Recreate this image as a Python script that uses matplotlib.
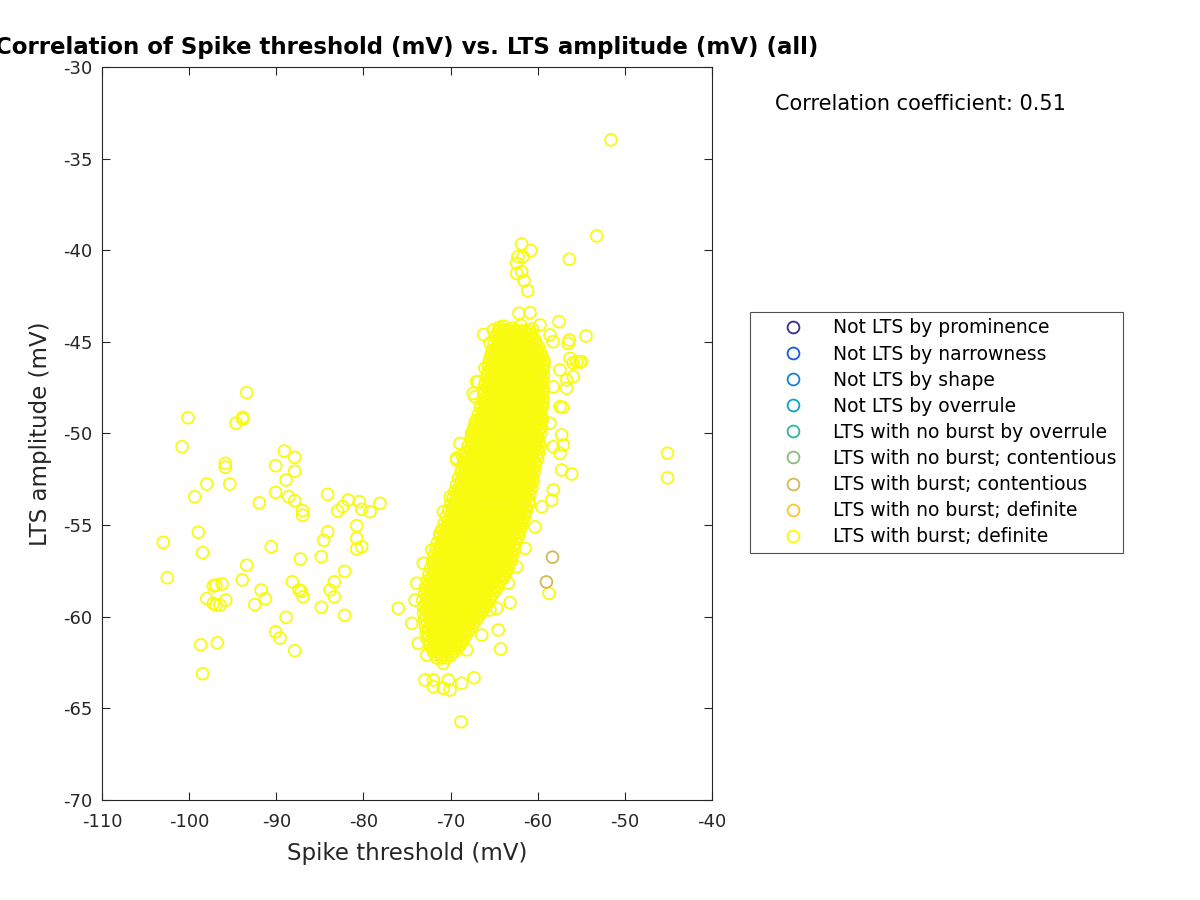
import numpy as np
import matplotlib
matplotlib.use('Agg')
import matplotlib.pyplot as plt
from matplotlib.lines import Line2D

plt.rcParams['axes.unicode_minus'] = False

# group names and colours (parula, 9 groups)
group_names = ['Not LTS by prominence', 'Not LTS by narrowness', 'Not LTS by shape',
               'Not LTS by overrule', 'LTS with no burst by overrule',
               'LTS with no burst; contentious', 'LTS with burst; contentious',
               'LTS with no burst; definite', 'LTS with burst; definite']
group_colors = ['#3a2c8e', '#0f5fe0', '#1582d8', '#08a5cb', '#2db6a3',
                '#86bf76', '#d2b85a', '#fcc537', '#f9fb0e']

# dense core of "LTS with burst; definite", one list of thresholds per amplitude row
core_amp = [-44.40, -44.75, -45.10, -45.45, -45.80, -46.15, -46.50, -46.85, -47.20, -47.55,
            -47.90, -48.25, -48.60, -48.95, -49.30, -49.65, -50.00, -50.35, -50.70, -51.05,
            -51.40, -51.75, -52.10, -52.45, -52.80, -53.15, -53.50, -53.85, -54.20, -54.55,
            -54.90, -55.25, -55.60, -55.95, -56.30, -56.65, -57.00, -57.35, -57.70, -58.05,
            -58.40, -58.75, -59.10, -59.45, -59.80, -60.15, -60.50, -60.85, -61.20, -61.55,
            -61.90, -62.25]
core_thr = [
    [-64.5, -63.9, -63.3, -62.7, -62.1, -61.5, -61.0],
    [-64.8, -64.2, -63.6, -63.0, -62.4, -61.8, -61.2, -60.6],
    [-65.0, -64.5, -63.9, -63.3, -62.7, -62.1, -61.5, -60.9, -60.2],
    [-65.2, -64.7, -64.1, -63.5, -62.9, -62.4, -61.8, -61.2, -60.6, -60.0],
    [-65.4, -64.9, -64.3, -63.7, -63.1, -62.6, -62.0, -61.4, -60.8, -60.2, -59.6],
    [-65.6, -65.0, -64.5, -63.9, -63.3, -62.8, -62.2, -61.6, -61.0, -60.4, -59.8, -59.3],
    [-65.4, -64.8, -64.2, -63.6, -63.1, -62.5, -61.9, -61.3, -60.7, -60.1, -59.5],
    [-65.8, -65.2, -64.6, -64.0, -63.4, -62.8, -62.2, -61.6, -61.0, -60.4, -59.8, -59.3],
    [-66.0, -65.5, -64.9, -64.3, -63.7, -63.1, -62.5, -61.9, -61.3, -60.7, -60.1, -59.5],
    [-65.8, -65.2, -64.6, -64.0, -63.4, -62.8, -62.2, -61.6, -61.0, -60.4, -59.8, -59.3],
    [-66.2, -65.6, -65.0, -64.4, -63.8, -63.2, -62.6, -62.0, -61.4, -60.8, -60.2, -59.6],
    [-66.3, -65.8, -65.2, -64.6, -64.0, -63.5, -62.9, -62.3, -61.7, -61.1, -60.5, -59.9, -59.4],
    [-66.6, -66.0, -65.4, -64.8, -64.2, -63.6, -63.0, -62.4, -61.8, -61.2, -60.6, -60.0, -59.5],
    [-66.8, -66.3, -65.7, -65.1, -64.5, -63.9, -63.3, -62.7, -62.1, -61.5, -60.9, -60.3, -59.7],
    [-67.1, -66.5, -65.9, -65.3, -64.7, -64.1, -63.5, -62.9, -62.3, -61.7, -61.1, -60.5, -59.9, -59.5],
    [-67.3, -66.7, -66.1, -65.6, -65.0, -64.4, -63.8, -63.2, -62.6, -62.0, -61.4, -60.8, -60.2, -59.6],
    [-67.5, -66.9, -66.3, -65.7, -65.1, -64.5, -63.9, -63.3, -62.7, -62.1, -61.5, -60.9, -60.3, -59.7],
    [-67.7, -67.1, -66.6, -66.0, -65.4, -64.8, -64.2, -63.6, -63.0, -62.4, -61.8, -61.2, -60.6, -60.0],
    [-68.0, -67.4, -66.8, -66.2, -65.6, -65.0, -64.4, -63.8, -63.2, -62.6, -62.0, -61.4, -60.8, -60.2, -59.7],
    [-68.2, -67.6, -67.0, -66.5, -65.9, -65.3, -64.7, -64.1, -63.5, -62.9, -62.3, -61.7, -61.1, -60.5, -59.9],
    [-68.4, -67.8, -67.2, -66.6, -66.0, -65.4, -64.8, -64.2, -63.6, -63.0, -62.4, -61.8, -61.2, -60.6, -60.0],
    [-68.6, -68.0, -67.5, -66.9, -66.3, -65.7, -65.1, -64.5, -63.9, -63.3, -62.7, -62.1, -61.5, -60.9, -60.3],
    [-68.8, -68.2, -67.6, -67.0, -66.4, -65.8, -65.2, -64.6, -64.0, -63.4, -62.8, -62.2, -61.6, -61.0, -60.4],
    [-69.1, -68.5, -67.9, -67.3, -66.7, -66.1, -65.5, -64.9, -64.3, -63.7, -63.1, -62.5, -61.9, -61.3, -60.7],
    [-69.3, -68.7, -68.1, -67.5, -66.9, -66.3, -65.7, -65.1, -64.5, -63.9, -63.3, -62.7, -62.1, -61.5, -60.9],
    [-69.5, -68.9, -68.3, -67.7, -67.1, -66.5, -65.9, -65.3, -64.7, -64.1, -63.5, -62.9, -62.3, -61.7, -61.1],
    [-69.7, -69.1, -68.5, -67.9, -67.3, -66.7, -66.1, -65.5, -64.9, -64.3, -63.7, -63.1, -62.5, -61.9, -61.3],
    [-70.0, -69.4, -68.8, -68.2, -67.6, -67.0, -66.4, -65.8, -65.2, -64.6, -64.0, -63.4, -62.8, -62.2, -61.6, -61.0],
    [-70.2, -69.6, -69.0, -68.4, -67.8, -67.2, -66.6, -66.0, -65.4, -64.8, -64.2, -63.6, -63.0, -62.4, -61.8, -61.3],
    [-70.5, -69.9, -69.3, -68.7, -68.1, -67.5, -66.9, -66.3, -65.7, -65.1, -64.5, -63.9, -63.3, -62.7, -62.1, -61.5],
    [-70.7, -70.1, -69.5, -68.9, -68.3, -67.7, -67.1, -66.5, -65.9, -65.3, -64.7, -64.1, -63.5, -62.9, -62.3, -61.8],
    [-71.0, -70.4, -69.8, -69.2, -68.6, -68.0, -67.4, -66.8, -66.2, -65.6, -65.0, -64.4, -63.8, -63.2, -62.6, -62.0],
    [-71.2, -70.6, -70.0, -69.4, -68.8, -68.2, -67.6, -67.0, -66.4, -65.8, -65.2, -64.6, -64.0, -63.4, -62.8, -62.2],
    [-71.5, -70.9, -70.3, -69.7, -69.1, -68.5, -67.9, -67.3, -66.7, -66.1, -65.5, -64.9, -64.3, -63.7, -63.1, -62.5],
    [-71.7, -71.1, -70.5, -69.9, -69.3, -68.7, -68.1, -67.5, -66.9, -66.3, -65.7, -65.1, -64.5, -63.9, -63.3, -62.7],
    [-71.9, -71.3, -70.7, -70.1, -69.5, -68.9, -68.3, -67.7, -67.1, -66.5, -65.9, -65.3, -64.7, -64.1, -63.5, -62.9],
    [-72.1, -71.5, -70.9, -70.3, -69.7, -69.1, -68.5, -67.9, -67.3, -66.7, -66.1, -65.5, -64.9, -64.3, -63.7, -63.1],
    [-72.3, -71.7, -71.1, -70.5, -69.9, -69.3, -68.7, -68.1, -67.5, -66.9, -66.3, -65.7, -65.1, -64.5, -63.9, -63.4],
    [-72.5, -71.9, -71.3, -70.7, -70.1, -69.5, -68.9, -68.3, -67.7, -67.1, -66.5, -65.9, -65.3, -64.7, -64.1, -63.7],
    [-72.7, -72.1, -71.5, -70.9, -70.3, -69.7, -69.1, -68.5, -67.9, -67.3, -66.7, -66.1, -65.5, -64.9, -64.3],
    [-72.9, -72.3, -71.7, -71.1, -70.5, -69.9, -69.3, -68.7, -68.1, -67.5, -66.9, -66.3, -65.7, -65.1, -64.6],
    [-73.0, -72.4, -71.8, -71.2, -70.6, -70.0, -69.4, -68.8, -68.2, -67.6, -67.0, -66.4, -65.8, -65.2],
    [-73.2, -72.6, -72.0, -71.4, -70.8, -70.2, -69.6, -69.0, -68.4, -67.8, -67.2, -66.6, -66.0, -65.5],
    [-73.1, -72.5, -71.9, -71.3, -70.7, -70.1, -69.5, -68.9, -68.3, -67.7, -67.1, -66.5, -66.0],
    [-73.1, -72.5, -71.9, -71.3, -70.7, -70.1, -69.5, -68.9, -68.3, -67.7, -67.1, -66.5],
    [-73.0, -72.4, -71.8, -71.2, -70.6, -70.0, -69.4, -68.8, -68.2, -67.6, -67.0],
    [-72.9, -72.3, -71.7, -71.1, -70.5, -69.9, -69.3, -68.7, -68.1, -67.5],
    [-72.8, -72.2, -71.6, -71.0, -70.4, -69.8, -69.2, -68.6, -68.0],
    [-72.7, -72.1, -71.5, -70.9, -70.3, -69.7, -69.1, -68.5],
    [-72.4, -71.8, -71.2, -70.6, -70.0, -69.4, -68.9],
    [-72.0, -71.4, -70.8, -70.2, -69.6],
    [-71.6, -71.0, -70.4],
]

# second set of core rows, lying between the rows above
core2_amp = [-44.58, -44.93, -45.28, -45.63, -45.98, -46.33, -46.68, -47.03, -47.38, -47.73,
             -48.08, -48.43, -48.78, -49.13, -49.48, -49.83, -50.18, -50.53, -50.88, -51.23,
             -51.58, -51.93, -52.28, -52.63, -52.98, -53.33, -53.68, -54.03, -54.38, -54.73,
             -55.08, -55.43, -55.78, -56.13, -56.48, -56.83, -57.18, -57.53, -57.88, -58.23,
             -58.58, -58.93, -59.28, -59.63, -59.98, -60.33, -60.68, -61.03, -61.38, -61.73,
             -62.08]
core2_thr = [
    [-64.7, -64.2, -63.6, -63.0, -62.4, -61.8, -61.2, -60.7],
    [-64.5, -63.9, -63.3, -62.7, -62.1, -61.5, -60.9, -60.3],
    [-64.7, -64.1, -63.5, -62.9, -62.3, -61.7, -61.1, -60.5, -59.9],
    [-65.3, -64.9, -64.3, -63.7, -63.1, -62.5, -61.9, -61.3, -60.7, -60.1, -59.6],
    [-65.5, -65.1, -64.5, -63.9, -63.3, -62.7, -62.1, -61.5, -60.9, -60.3, -59.7, -59.3],
    [-65.3, -64.7, -64.1, -63.5, -62.9, -62.3, -61.7, -61.1, -60.5, -59.9, -59.3],
    [-65.7, -65.1, -64.5, -63.9, -63.3, -62.7, -62.1, -61.5, -60.9, -60.3, -59.7],
    [-65.5, -64.9, -64.3, -63.7, -63.1, -62.5, -61.9, -61.3, -60.7, -60.1, -59.5],
    [-66.1, -65.7, -65.1, -64.5, -63.9, -63.3, -62.7, -62.1, -61.5, -60.9, -60.3, -59.7],
    [-66.1, -65.5, -64.9, -64.3, -63.7, -63.1, -62.5, -61.9, -61.3, -60.7, -60.1, -59.5],
    [-65.9, -65.3, -64.7, -64.1, -63.5, -62.9, -62.3, -61.7, -61.1, -60.5, -59.9, -59.4],
    [-66.5, -66.0, -65.5, -64.9, -64.3, -63.7, -63.2, -62.6, -62.0, -61.4, -60.8, -60.2, -59.6],
    [-66.3, -65.7, -65.1, -64.5, -63.9, -63.3, -62.7, -62.1, -61.5, -60.9, -60.3, -59.7],
    [-66.5, -66.0, -65.4, -64.8, -64.2, -63.6, -63.0, -62.4, -61.8, -61.2, -60.6, -60.0, -59.5],
    [-67.2, -66.8, -66.2, -65.6, -65.0, -64.4, -63.8, -63.2, -62.6, -62.0, -61.4, -60.8, -60.2, -59.7],
    [-67.4, -67.0, -66.4, -65.9, -65.3, -64.7, -64.1, -63.5, -62.9, -62.3, -61.7, -61.1, -60.5, -59.9],
    [-67.6, -67.2, -66.6, -66.0, -65.4, -64.8, -64.2, -63.6, -63.0, -62.4, -61.8, -61.2, -60.6, -60.0],
    [-67.4, -66.9, -66.3, -65.7, -65.1, -64.5, -63.9, -63.3, -62.7, -62.1, -61.5, -60.9, -60.3, -59.8],
    [-67.7, -67.1, -66.5, -65.9, -65.3, -64.7, -64.1, -63.5, -62.9, -62.3, -61.7, -61.1, -60.5, -60.0],
    [-68.3, -67.9, -67.3, -66.8, -66.2, -65.6, -65.0, -64.4, -63.8, -63.2, -62.6, -62.0, -61.4, -60.8, -60.2],
    [-68.5, -68.1, -67.5, -66.9, -66.3, -65.7, -65.1, -64.5, -63.9, -63.3, -62.7, -62.1, -61.5, -60.9, -60.3],
    [-68.7, -68.3, -67.8, -67.2, -66.6, -66.0, -65.4, -64.8, -64.2, -63.6, -63.0, -62.4, -61.8, -61.2, -60.6],
    [-68.5, -67.9, -67.3, -66.7, -66.1, -65.5, -64.9, -64.3, -63.7, -63.1, -62.5, -61.9, -61.3, -60.7],
    [-68.8, -68.2, -67.6, -67.0, -66.4, -65.8, -65.2, -64.6, -64.0, -63.4, -62.8, -62.2, -61.6, -61.0, -60.5],
    [-69.0, -68.4, -67.8, -67.2, -66.6, -66.0, -65.4, -64.8, -64.2, -63.6, -63.0, -62.4, -61.8, -61.2, -60.7],
    [-69.2, -68.6, -68.0, -67.4, -66.8, -66.2, -65.6, -65.0, -64.4, -63.8, -63.2, -62.6, -62.0, -61.4, -60.9],
    [-69.4, -68.8, -68.2, -67.6, -67.0, -66.4, -65.8, -65.2, -64.6, -64.0, -63.4, -62.8, -62.2, -61.6, -61.0],
    [-69.7, -69.1, -68.5, -67.9, -67.3, -66.7, -66.1, -65.5, -64.9, -64.3, -63.7, -63.1, -62.5, -61.9, -61.3],
    [-69.9, -69.3, -68.7, -68.1, -67.5, -66.9, -66.3, -65.7, -65.1, -64.5, -63.9, -63.3, -62.7, -62.1, -61.5],
    [-70.2, -69.6, -69.0, -68.4, -67.8, -67.2, -66.6, -66.0, -65.4, -64.8, -64.2, -63.6, -63.0, -62.4, -61.8],
    [-70.4, -69.8, -69.2, -68.6, -68.0, -67.4, -66.8, -66.2, -65.6, -65.0, -64.4, -63.8, -63.2, -62.6, -62.0],
    [-70.7, -70.1, -69.5, -68.9, -68.3, -67.7, -67.1, -66.5, -65.9, -65.3, -64.7, -64.1, -63.5, -62.9, -62.3],
    [-70.9, -70.3, -69.7, -69.1, -68.5, -67.9, -67.3, -66.7, -66.1, -65.5, -64.9, -64.3, -63.7, -63.1, -62.5],
    [-71.2, -70.6, -70.0, -69.4, -68.8, -68.2, -67.6, -67.0, -66.4, -65.8, -65.2, -64.6, -64.0, -63.4, -62.8],
    [-71.4, -70.8, -70.2, -69.6, -69.0, -68.4, -67.8, -67.2, -66.6, -66.0, -65.4, -64.8, -64.2, -63.6, -63.0],
    [-71.6, -71.0, -70.4, -69.8, -69.2, -68.6, -68.0, -67.4, -66.8, -66.2, -65.6, -65.0, -64.4, -63.8, -63.2],
    [-71.8, -71.2, -70.6, -70.0, -69.4, -68.8, -68.2, -67.6, -67.0, -66.4, -65.8, -65.2, -64.6, -64.0, -63.4],
    [-72.0, -71.4, -70.8, -70.2, -69.6, -69.0, -68.4, -67.8, -67.2, -66.6, -66.0, -65.4, -64.8, -64.2, -63.6],
    [-72.2, -71.6, -71.0, -70.4, -69.8, -69.2, -68.6, -68.0, -67.4, -66.8, -66.2, -65.6, -65.0, -64.4, -63.9],
    [-72.4, -71.8, -71.2, -70.6, -70.0, -69.4, -68.8, -68.2, -67.6, -67.0, -66.4, -65.8, -65.2, -64.6],
    [-72.6, -72.0, -71.4, -70.8, -70.2, -69.6, -69.0, -68.4, -67.8, -67.2, -66.6, -66.0, -65.4, -64.9],
    [-72.7, -72.1, -71.5, -70.9, -70.3, -69.7, -69.1, -68.5, -67.9, -67.3, -66.7, -66.1, -65.5],
    [-72.9, -72.3, -71.7, -71.1, -70.5, -69.9, -69.3, -68.7, -68.1, -67.5, -66.9, -66.3, -65.8],
    [-72.8, -72.2, -71.6, -71.0, -70.4, -69.8, -69.2, -68.6, -68.0, -67.4, -66.8, -66.3],
    [-72.8, -72.2, -71.6, -71.0, -70.4, -69.8, -69.2, -68.6, -68.0, -67.4, -66.8],
    [-72.7, -72.1, -71.5, -70.9, -70.3, -69.7, -69.1, -68.5, -67.9, -67.3],
    [-72.6, -72.0, -71.4, -70.8, -70.2, -69.6, -69.0, -68.4, -67.8],
    [-72.5, -71.9, -71.3, -70.7, -70.1, -69.5, -68.9, -68.3],
    [-72.4, -71.8, -71.2, -70.6, -70.0, -69.4, -68.8],
    [-72.1, -71.5, -70.9, -70.3, -69.7, -69.2],
    [-71.7, -71.1, -70.5, -69.9],
]

# scattered "LTS with burst; definite" points around the core and on the left
spread_thr = [-61.84, -60.80, -62.26, -61.69, -62.41, -62.41, -61.84, -61.57, -61.15, -56.37,
              -53.23, -51.59, -62.15, -60.88, -59.74, -57.56, -56.37, -56.49, -54.46, -63.64,
              -65.47, -66.20, -55.95, -55.15, -56.68, -57.44, -57.25, -57.06, -57.44, -56.10,
              -57.25, -58.21, -58.39, -59.54, -60.31, -61.46, -62.41, -63.37, -63.18, -65.47,
              -64.70, -64.52, -64.25, -66.43, -68.15, -72.93, -71.98, -71.98, -70.83, -70.26,
              -70.06, -68.72, -67.31, -68.80, -69.31, -70.06, -70.83, -71.21, -72.16, -73.13,
              -73.89, -74.08, -74.46, -73.70, -72.74, -70.83, -76.00, -66.85, -66.05, -67.20,
              -68.69, -58.59, -58.24, -56.29, -55.53, -54.95, -57.44, -55.92, -56.68, -58.21,
              -57.13, -58.59, -58.21, -67.00, -67.39, -65.67, -65.10, -64.33, -68.92, -69.30,
              -67.58, -45.10, -45.10, -58.70, -64.40, -63.90, -62.90, -61.90, -60.60,
              -80.47, -80.20, -79.24, -78.10, -80.77, -80.77, -80.77, -80.20,
              -93.39, -100.13, -94.62, -93.85, -93.85, -100.82, -89.08, -87.89, -95.85, -95.85,
              -90.07, -87.89, -88.88, -97.98, -95.34, -99.36, -90.07, -88.57, -87.89, -91.95,
              -84.11, -81.74, -82.38, -82.95, -86.97, -86.97, -98.95, -102.97, -98.45, -90.58,
              -84.11, -84.56, -84.84, -87.24, -93.39, -102.51, -93.90, -97.23, -96.92, -96.23,
              -97.98, -97.23, -96.92, -96.46, -95.80, -91.75, -91.26, -92.48, -88.16, -87.39,
              -87.13, -86.93, -82.16, -83.34, -83.84, -83.34, -84.84, -82.16, -88.88, -90.07,
              -89.57, -87.89, -98.67, -96.77, -98.45]
spread_amp = [-39.66, -40.02, -40.35, -40.35, -40.71, -41.26, -41.17, -41.66, -42.21, -40.49,
              -39.22, -33.98, -43.44, -43.41, -44.08, -43.90, -44.90, -45.08, -44.68, -44.35,
              -45.06, -44.60, -46.15, -46.10, -47.53, -48.54, -50.08, -50.63, -51.08, -52.21,
              -51.99, -53.08, -53.63, -54.00, -55.09, -56.27, -57.27, -58.17, -59.23, -59.63,
              -59.54, -60.72, -61.76, -61.00, -61.81, -63.45, -63.45, -63.82, -63.90, -63.45,
              -64.00, -63.63, -63.33, -65.73, -51.35, -53.45, -54.27, -55.45, -56.36, -57.08,
              -58.17, -59.09, -60.36, -61.45, -62.09, -62.54, -59.54, -47.19, -46.43, -48.00,
              -51.17, -44.62, -44.99, -45.90, -46.08, -46.08, -46.53, -46.90, -47.08, -47.45,
              -48.57, -49.44, -50.72, -47.17, -47.81, -46.35, -44.35, -44.35, -50.54, -51.45,
              -49.99, -51.08, -52.42, -58.72, -44.20, -44.15, -44.25, -44.10, -44.30,
              -53.72, -54.14, -54.27, -53.81, -55.03, -55.72, -56.30, -56.18,
              -47.77, -49.14, -49.44, -49.12, -49.22, -50.72, -50.96, -51.30, -51.63, -51.84,
              -51.76, -52.06, -52.54, -52.76, -52.76, -53.45, -53.21, -53.45, -53.67, -53.78,
              -53.32, -53.63, -53.99, -54.23, -54.21, -54.46, -55.39, -55.94, -56.50, -56.18,
              -55.37, -55.83, -56.72, -56.85, -57.19, -57.87, -57.99, -58.32, -58.27, -58.21,
              -59.01, -59.27, -59.36, -59.36, -59.09, -58.54, -59.01, -59.34, -58.09, -58.54,
              -58.61, -58.91, -57.52, -58.10, -58.54, -58.91, -59.48, -59.92, -60.03, -60.83,
              -61.16, -61.85, -61.53, -61.42, -63.11]

# "LTS with burst; contentious"
cont_thr = [-58.30, -59.00]
cont_amp = [-56.75, -58.10]

corr_coef = 0.51

fig = plt.figure(figsize=(12, 9), dpi=100)
ax = fig.add_axes([0.085, 0.1111, 0.5083, 0.8145])

burst_x, burst_y = [], []
for amps, rows in [(core_amp, core_thr), (core2_amp, core2_thr)]:
    for a, row in zip(amps, rows):
        burst_x += row
        burst_y += [a] * len(row)
burst_x += spread_thr
burst_y += spread_amp
ax.scatter(burst_x, burst_y, s=72, facecolors='none', edgecolors=group_colors[8], linewidths=1.3)
ax.scatter(cont_thr, cont_amp, s=72, facecolors='none', edgecolors=group_colors[6], linewidths=1.3)

ax.set_xlim(-110, -40)
ax.set_ylim(-70, -30)
ax.set_xticks(np.arange(-110, -39, 10))
ax.set_yticks(np.arange(-70, -29, 5))
ax.tick_params(direction='in', top=True, right=True, length=6, labelsize=13, colors='#262626')
ax.tick_params(axis='x', pad=9)
ax.tick_params(axis='y', pad=7)
for sp in ax.spines.values():
    sp.set_color('#262626')
ax.set_xlabel('Spike threshold (mV)', fontsize=16.5, color='#262626', labelpad=8)
ax.set_ylabel('LTS amplitude (mV)', fontsize=16.5, color='#262626', labelpad=8)
ax.set_title('Correlation of Spike threshold (mV) vs. LTS amplitude (mV) (all)',
             fontsize=16.5, fontweight='bold', pad=9)

fig.text(0.646, 0.884, 'Correlation coefficient: %.2f' % corr_coef, fontsize=15, va='center')

handles = [Line2D([], [], linestyle='none', marker='o', markersize=8.5, markerfacecolor='none',
                  markeredgecolor=c, markeredgewidth=1.3) for c in group_colors]
leg = fig.legend(handles, group_names, loc='upper left', bbox_to_anchor=(0.625, 0.6533),
                 borderaxespad=0, fontsize=13.5, frameon=True, fancybox=False,
                 edgecolor='#262626', handletextpad=0.2, labelspacing=0.38, borderpad=0.34,
                 handlelength=3.9)
leg.get_frame().set_linewidth(0.8)

fig.savefig('out.png', dpi=100)
